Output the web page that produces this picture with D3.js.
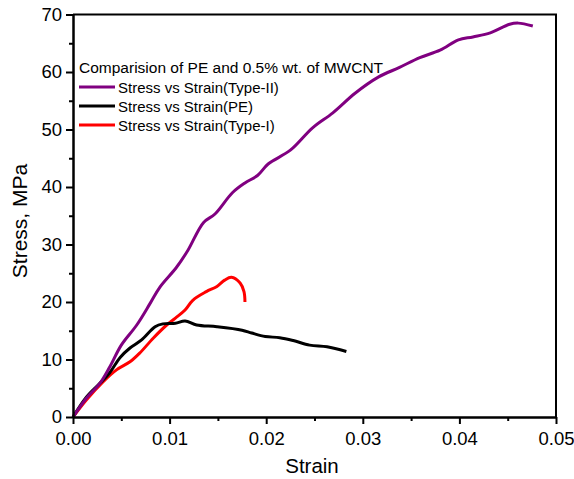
<!DOCTYPE html>
<html>
<head>
<meta charset="utf-8">
<script src="https://cdn.jsdelivr.net/npm/d3@7"></script>
<style>
  body { margin: 0; background: #fff; }
  text { font-family: "Liberation Sans", Arial, sans-serif; }
</style>
</head>
<body>
<svg id="chart"></svg>
<script>
// series: [strain, stress MPa]
let typeII = [
  [0, 0], [0.0014, 3.3], [0.0028, 5.9], [0.0038, 8.7], [0.005, 12.5], [0.0066, 16],
  [0.008, 19.8], [0.009, 22.6], [0.0107, 26], [0.0119, 29], [0.0135, 33.8],
  [0.0147, 35.3], [0.0165, 39], [0.0178, 40.7], [0.0191, 42], [0.0202, 44],
  [0.0225, 46.4], [0.0248, 50.3], [0.0269, 52.9], [0.0292, 56.3], [0.0316, 59.1],
  [0.0338, 60.8], [0.0359, 62.5], [0.038, 63.8], [0.0399, 65.6], [0.0414, 66.1],
  [0.0432, 66.8], [0.0452, 68.3], [0.0461, 68.5], [0.0476, 68]
];
let pe = [
  [0, 0], [0.0014, 3.5], [0.0028, 5.9], [0.0038, 7.7], [0.0049, 10.4], [0.0059, 12],
  [0.0071, 13.4], [0.0085, 15.7], [0.0093, 16.2], [0.0106, 16.3], [0.0116, 16.7],
  [0.0128, 16], [0.0149, 15.7], [0.0175, 15.1], [0.0185, 14.6], [0.0199, 14],
  [0.0214, 13.8], [0.0228, 13.3], [0.0245, 12.5], [0.0263, 12.2], [0.0283, 11.4]
];
let typeI = [
  [0, 0], [0.0014, 3], [0.0031, 6.1], [0.0045, 8.2], [0.0059, 9.6], [0.0069, 11.1],
  [0.0083, 13.7], [0.0097, 16], [0.0106, 17.2], [0.0116, 18.6], [0.0124, 20.3],
  [0.0138, 21.8], [0.0149, 22.7], [0.0157, 23.8], [0.0164, 24.3], [0.0173, 23.3],
  [0.0177, 21.8], [0.0178, 20]
];

let xTicks = [0, 0.01, 0.02, 0.03, 0.04, 0.05];
let xMinor = [0.005, 0.015, 0.025, 0.035, 0.045];
let yTicks = [0, 10, 20, 30, 40, 50, 60, 70];
let yMinor = [5, 15, 25, 35, 45, 55, 65];

let legendTitle = 'Comparision of PE and 0.5% wt. of MWCNT';
let series = [
  { name: 'Stress vs Strain(Type-II)', color: '#800080', data: typeII },
  { name: 'Stress vs Strain(PE)', color: '#000000', data: pe },
  { name: 'Stress vs Strain(Type-I)', color: '#ff0000', data: typeI }
];

let width = 574, height = 479;
let margin = { top: 14.5, right: 18, bottom: 62, left: 73 };
let plotWidth = width - margin.left - margin.right;
let plotHeight = height - margin.top - margin.bottom;

let svg = d3.select('#chart').attr('width', width).attr('height', height);

let x = d3.scaleLinear().domain([0, 0.05]).range([0, plotWidth]);
let y = d3.scaleLinear().domain([0, 70]).range([plotHeight, 0]);

let plot = svg.append('g').attr('transform', translate(margin.left, margin.top));

// curves
let line = d3.line()
  .x(d => x(d[0]))
  .y(d => y(d[1]))
  .curve(d3.curveCatmullRom);

plot.selectAll('path.series')
  .data(series.slice().reverse())
  .enter().append('path')
  .attr('class', 'series')
  .attr('fill', 'none')
  .attr('stroke', d => d.color)
  .attr('stroke-width', 3)
  .attr('stroke-linejoin', 'round')
  .attr('d', d => line(d.data));

// frame (top + right)
plot.append('path')
  .attr('fill', 'none')
  .attr('stroke', '#000')
  .attr('stroke-width', 2)
  .attr('d', 'M0,' + y(70) + 'H' + x(0.05) + 'V' + y(0));

// axes
let xAxis = d3.axisBottom(x).tickValues(xTicks).tickFormat(d3.format('.2f')).tickSize(7).tickSizeOuter(0).tickPadding(5);
let xMinorAxis = d3.axisBottom(x).tickValues(xMinor).tickFormat('').tickSize(4).tickSizeOuter(0);
let yAxis = d3.axisLeft(y).tickValues(yTicks).tickFormat(d3.format('d')).tickSize(7).tickSizeOuter(0).tickPadding(4);
let yMinorAxis = d3.axisLeft(y).tickValues(yMinor).tickFormat('').tickSize(4).tickSizeOuter(0);

let xg = plot.append('g').attr('transform', translate(0, plotHeight)).call(xAxis);
plot.append('g').attr('transform', translate(0, plotHeight)).call(xMinorAxis);
let yg = plot.append('g').call(yAxis);
plot.append('g').call(yMinorAxis);

plot.selectAll('.domain, .tick line').attr('stroke', '#000').attr('stroke-width', 2);
plot.selectAll('.tick text').attr('fill', '#000').style('font-size', '18.5px');
xg.selectAll('.tick text').attr('dy', '0.85em');
yg.selectAll('.tick text').attr('dy', '0.3em');

// axis titles
svg.append('text')
  .attr('x', 312).attr('y', 473)
  .attr('text-anchor', 'middle')
  .style('font-size', '20.5px')
  .text('Strain');

svg.append('text')
  .attr('transform', 'translate(27,221) rotate(-90)')
  .attr('text-anchor', 'middle')
  .style('font-size', '21px')
  .text('Stress, MPa');

// legend
let legend = svg.append('g').attr('transform', translate(79, 0));
legend.append('text')
  .attr('x', 0).attr('y', 73)
  .style('font-size', '15.5px')
  .text(legendTitle);

let rows = legend.selectAll('g.row')
  .data(series)
  .enter().append('g')
  .attr('class', 'row')
  .attr('transform', (d, i) => translate(0, 87 + i * 19));

rows.append('line')
  .attr('x1', 0).attr('x2', 36)
  .attr('stroke', d => d.color)
  .attr('stroke-width', 3);

rows.append('text')
  .attr('x', 39).attr('y', 6)
  .style('font-size', '15px')
  .text(d => d.name);

// helper method to make translating easier
function translate(x, y) {
  return 'translate(' + x + ',' + y + ')';
}
</script>
</body>
</html>
